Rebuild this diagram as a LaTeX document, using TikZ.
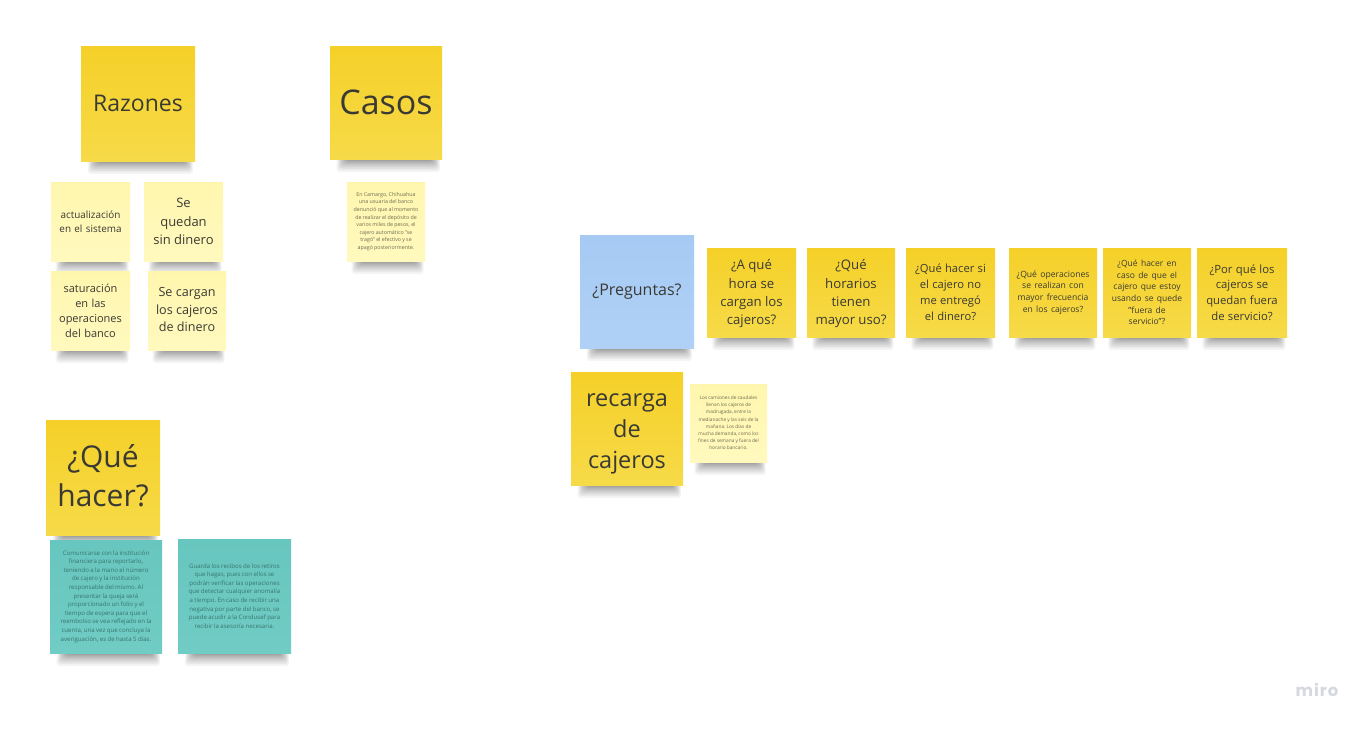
\documentclass[tikz,border=0pt]{standalone}
\usepackage{fontspec}
\setmainfont{Open Sans}
\usetikzlibrary{calc}
\definecolor{ink}{HTML}{3A3A34}
\definecolor{inkpale}{HTML}{6E6C50}
\definecolor{inkteal}{HTML}{37756F}
\definecolor{yeltop}{HTML}{F5D028}
\definecolor{yelbot}{HTML}{F6DA48}
\definecolor{paletop}{HTML}{FFF6AE}
\definecolor{palebot}{HTML}{FFF9BE}
\definecolor{bluetop}{HTML}{A6CAF4}
\definecolor{bluebot}{HTML}{B0D1F6}
\definecolor{tealtop}{HTML}{67C6BF}
\definecolor{tealbot}{HTML}{70CCC4}
\definecolor{mirogrey}{HTML}{D6D8E0}
\tikzset{
  note/.style={rectangle,inner sep=0pt,align=center,text=ink,anchor=center},
  yellownote/.style={note,top color=yeltop,bottom color=yelbot},
  palenote/.style={note,top color=paletop,bottom color=palebot},
  bluenote/.style={note,top color=bluetop,bottom color=bluebot},
  tealnote/.style={note,top color=tealtop,bottom color=tealbot},
  softshadow/.style={black,opacity=0.042},
}
\newcommand{\fs}[2]{\fontsize{#1}{#2}\selectfont}
\newcommand{\tinyspace}{\spaceskip=0.23em\relax\xspaceskip=0.23em\relax}
% name, x0, y0, x1, y1, style, font, text
\newcommand{\stickynote}[8]{%
  \pgfmathsetmacro{\nw}{#4-#2}\pgfmathsetmacro{\nh}{#5-#3}%
  \pgfmathsetmacro{\cx}{(#2+#4)/2}\pgfmathsetmacro{\cy}{(#3+#5)/2}%
  \pgfmathsetmacro{\sx}{\nw*0.06}%
  \foreach \g in {0,1,...,13}{%
    \fill[softshadow,rounded corners=3pt] ({#2+\sx+\g*1.1},{#5-6})
      rectangle ({#4-\sx*0.3-\g*0.9},{#5+13*(1-\g/14)*(1-\g/14)});
  }%
  \node[#6,minimum width=\nw pt,minimum height=\nh pt,text width=\nw pt] (#1) at (\cx,\cy) {#7#8\par};%
}
\begin{document}
\begin{tikzpicture}[x=1pt,y=-1pt]
\useasboundingbox (0,0) rectangle (1370,729);
\fill[white] (0,0) rectangle (1370,729);
\stickynote{razones}{81}{46}{195}{161}{yellownote}{\fs{23}{32}}{Razones}
\stickynote{casos}{330}{46}{442}{159}{yellownote}{\fs{34}{46}}{Casos}
\stickynote{actual}{51}{182}{130}{261}{palenote}{\fs{9.9}{14}}{actualización\\en el sistema}
\stickynote{quedan}{144}{182}{223}{261}{palenote}{\fs{13}{18.5}}{Se\\quedan\\sin dinero}
\stickynote{satur}{51}{271}{130}{350}{palenote}{\fs{11}{15}}{saturación\\en las\\operaciones\\del banco}
\stickynote{cargan}{148}{271}{226}{350}{palenote}{\fs{12.6}{17.5}}{Se cargan\\los cajeros\\de dinero\rule[-2pt]{0pt}{1pt}}
\stickynote{camargo}{347}{182}{425}{261}{palenote}{\fs{5.3}{7.6}\color{inkpale}\tinyspace}{En Camargo, Chihuahua\\una usuaria del banco\\denunció que al momento\\de realizar el depósito de\\varios miles de pesos, el\\cajero automático "se\\tragó" el efectivo y se\\apagó posteriormente.}
\stickynote{preguntas}{580}{235}{694}{348}{bluenote}{\fs{16}{22}}{¿Preguntas?}
\stickynote{q1}{707}{248}{796}{337}{yellownote}{\fs{13.2}{18.3}}{\rule{0pt}{13pt}¿A qué\\hora se\\cargan los\\cajeros?}
\stickynote{q2}{807}{248}{895}{337}{yellownote}{\fs{13.2}{18.3}}{\rule{0pt}{13pt}¿Qué\\horarios\\tienen\\mayor uso?}
\stickynote{q3}{906}{248}{995}{337}{yellownote}{\fs{11.2}{16}}{¿Qué hacer si\\el cajero no\\me entregó\\el dinero?}
\stickynote{q4}{1009}{248}{1097}{337}{yellownote}{\fs{8.6}{11.7}}{¿Qué operaciones\\se realizan con\\mayor frecuencia\\en los cajeros?}
\stickynote{q5}{1103}{248}{1191}{337}{yellownote}{\fs{8.5}{11.7}}{¿Qué hacer en\\caso de que el\\cajero que estoy\\usando se quede\\"fuera de\\servicio"?}
\stickynote{q6}{1197}{248}{1287}{337}{yellownote}{\fs{11.3}{15.7}}{¿Por qué los\\cajeros se\\quedan fuera\\de servicio?}
\stickynote{recarga}{571}{372}{683}{485}{yellownote}{\fs{23.5}{31}}{\rule{0pt}{23pt}recarga\\de\\cajeros}
\stickynote{camiones}{690}{384}{767}{462}{palenote}{\fs{4.8}{7.2}\color{inkpale}\tinyspace}{Los camiones de caudales\\llenan los cajeros de\\madrugada, entre la\\medianoche y las seis de la\\mañana. Los días de\\mucha demanda, como los\\fines de semana y fuera del\\horario bancario.}
\stickynote{hacer}{46}{420}{160}{535}{yellownote}{\fs{30}{39}}{¿Qué\\hacer?\rule[-4pt]{0pt}{1pt}}
\stickynote{comunicarse}{50}{540}{162}{653}{tealnote}{\fs{6.1}{8.6}\color{inkteal}\tinyspace}{Comunicarse con la institución\\financiera para reportarlo,\\teniendo a la mano el número\\de cajero y la institución\\responsable del mismo. Al\\presentar la queja será\\proporcionado un folio y el\\tiempo de espera para que el\\reembolso se vea reflejado en la\\cuenta, una vez que concluya la\\averiguación, es de hasta 5 días.}
\stickynote{guarda}{178}{539}{291}{653}{tealnote}{\fs{6.1}{8.6}\color{inkteal}\tinyspace}{Guarda los recibos de los retiros\\que hagas, pues con ellos se\\podrán verificar las operaciones\\que  detectar cualquier anomalía\\a tiempo. En caso de recibir una\\negativa por parte del banco, se\\puede acudir a la Condusef para\\recibir la asesoría necesaria.}
\node[text=mirogrey,inner sep=0pt] (miro) at (1317,690) {\fontspec{Poppins}[LetterSpace=6]\bfseries\fs{16.5}{20}miro};
\end{tikzpicture}
\end{document}
